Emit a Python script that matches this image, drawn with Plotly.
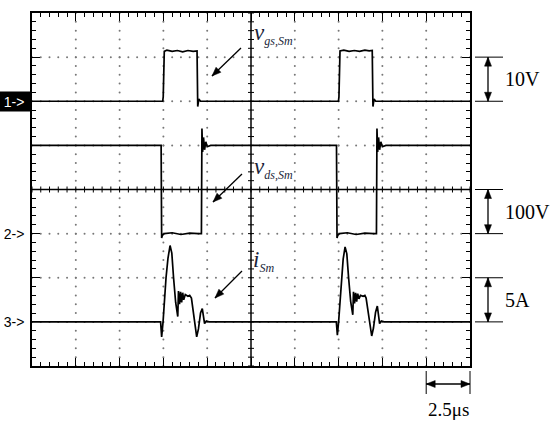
import plotly.graph_objects as go

# time base: 2.5 us per division, 10 divisions
t_vgs = [0, 7.46, 7.49, 7.55, 7.7, 8.0, 8.3, 8.6, 8.9, 9.2, 9.42, 9.46, 9.52, 9.62,
         17.49, 17.52, 17.58, 17.8, 18.1, 18.4, 18.7, 19.0, 19.25, 19.42, 19.46, 19.52, 19.62, 25]
v_vgs = [0, 0, 1.0, 11.3, 11.6, 11.3, 11.5, 11.2, 11.5, 11.3, 11.4, -1.2, 0.5, 0,
         0, 1.0, 11.4, 11.6, 11.3, 11.5, 11.3, 11.6, 11.4, 11.5, -1.2, 0.5, 0, 0]

t_vds = [0, 7.37, 7.40, 7.44, 7.55, 8.0, 8.5, 9.0, 9.5, 9.67, 9.70, 9.74, 9.79, 9.85, 9.92, 10.0, 10.2,
         17.38, 17.41, 17.45, 17.55, 18.0, 18.5, 19.0, 19.5, 19.66, 19.69, 19.73, 19.78, 19.84, 19.91, 20.0, 20.2, 25]
v_vds = [200, 200, -10, -4, 0, 2, -2, 1, 0, 0, 238, 185, 218, 190, 208, 197, 200,
         200, -10, -4, 0, 2, -2, 1, 0, 0, 238, 185, 218, 190, 208, 197, 200, 200]

t_is = [0, 7.34, 7.40, 7.48, 7.65, 7.76, 7.88, 7.98, 8.08, 8.20, 8.32, 8.36, 8.42, 8.48, 8.54, 8.60,
        8.66, 8.75, 8.90, 9.00, 9.10, 9.25, 9.40, 9.50, 9.62, 9.72, 9.78, 9.85, 9.95, 10.1,
        17.37, 17.43, 17.50, 17.66, 17.76, 17.87, 17.97, 18.07, 18.19, 18.31, 18.35, 18.41, 18.47, 18.53,
        18.59, 18.66, 18.75, 18.90, 19.00, 19.07, 19.22, 19.39, 19.49, 19.61, 19.71, 19.77, 19.84, 19.94, 20.1, 25]
i_is = [0, 0, -1.7, 0, 5.0, 7.2, 8.65, 7.8, 5.0, 2.2, 0.6, 3.5, 2.0, 3.4, 2.2, 3.3,
        2.5, 3.1, 2.9, 3.0, 2.7, 0.5, -1.7, -0.8, 1.0, 1.5, 0.5, -0.2, 0.1, 0,
        0, -1.5, 0, 5.0, 7.1, 8.5, 7.7, 5.0, 2.3, 0.8, 3.4, 2.1, 3.3, 2.3,
        3.2, 2.6, 3.0, 2.9, 3.0, 2.7, 0.4, -1.6, -0.7, 1.1, 1.8, 0.6, -0.2, 0.1, 0, 0]

# channel settings: offset in divisions, units per division
ch_offset = {"1": 2, "2": -1, "3": -3}
ch_scale = {"1": 10, "2": 100, "3": 5}
scale_labels = ["10V", "100V", "5A"]
time_label = "2.5\u03bcs"
us_per_div = 2.5

W, H = 550, 427
L, R, T, B = 32, 80, 13, 61
pw, ph = W - L - R, H - T - B

def px(x):
    return (x - L) / pw

def py(y):
    return (H - B - y) / ph

def dy(div):
    return (div + 4) / 8

fig = go.Figure()

# dotted graticule
gx, gy = [], []
for k in range(1, 10):
    if k == 5:
        continue
    for m in range(0, 41):
        gx.append(k * us_per_div)
        gy.append(-4 + m * 0.2)
for k in range(-3, 4):
    if k == 0:
        continue
    for m in range(0, 51):
        gx.append(m * 0.5)
        gy.append(k)
fig.add_trace(go.Scatter(x=gx, y=gy, mode="markers",
                         marker=dict(size=2, color="#777"), hoverinfo="skip"))

# centre cross ticks
cx, cy = [], []
hx = 3 / pw * 25
hy = 3 / ph * 8
for m in range(0, 41):
    yy = -4 + m * 0.2
    cx += [12.5 - hx, 12.5 + hx, None]
    cy += [yy, yy, None]
for m in range(0, 51):
    xx = m * 0.5
    cx += [xx, xx, None]
    cy += [-hy, hy, None]
fig.add_trace(go.Scatter(x=cx, y=cy, mode="lines",
                         line=dict(color="black", width=1), hoverinfo="skip"))

fig.add_shape(type="line", x0=12.5, x1=12.5, y0=-4, y1=4, line=dict(color="black", width=1.5))
fig.add_shape(type="line", x0=0, x1=25, y0=0, y1=0, line=dict(color="black", width=1.5))

# waveforms
for t, v, ch in [(t_vgs, v_vgs, "1"), (t_vds, v_vds, "2"), (t_is, i_is, "3")]:
    fig.add_trace(go.Scatter(x=t, y=[ch_offset[ch] + val / ch_scale[ch] for val in v],
                             mode="lines", line=dict(color="black", width=1.7)))


def arrow(x0, y0, x1, y1, heads=("end",), hl=9, hw=3.5):
    # x/y in page pixels; line plus filled triangle heads as paper shapes
    fig.add_shape(type="line", xref="paper", yref="paper",
                  x0=px(x0), y0=py(y0), x1=px(x1), y1=py(y1),
                  line=dict(color="black", width=1.3))
    dx, dyy = x1 - x0, y1 - y0
    n = (dx * dx + dyy * dyy) ** 0.5
    ux, uy = dx / n, dyy / n
    ends = []
    if "end" in heads:
        ends.append((x1, y1, ux, uy))
    if "start" in heads:
        ends.append((x0, y0, -ux, -uy))
    for tx, ty, vx, vy in ends:
        bx, by = tx - vx * hl, ty - vy * hl
        p1 = (bx - vy * hw, by + vx * hw)
        p2 = (bx + vy * hw, by - vx * hw)
        path = "M {} {} L {} {} L {} {} Z".format(px(tx), py(ty), px(p1[0]), py(p1[1]),
                                                  px(p2[0]), py(p2[1]))
        fig.add_shape(type="path", xref="paper", yref="paper", path=path,
                      fillcolor="black", line=dict(color="black", width=0.5))


# left channel markers
for ch in ["1", "2", "3"]:
    boxed = ch == "1"
    fig.add_annotation(x=0, y=dy(ch_offset[ch]), xref="paper", yref="paper",
                       text=ch + "->", showarrow=False, xanchor="right", yanchor="middle",
                       width=32, height=17, align="center",
                       bgcolor="black" if boxed else "rgba(0,0,0,0)",
                       font=dict(family="Liberation Sans", size=14,
                                 color="white" if boxed else "black"))

# signal labels with arrows
lab_font = dict(family="Liberation Serif", size=23, color="#1a1f3a")
labels = [("v", "gs,Sm", 252, 34, 241, 48, 212, 76),
          ("v", "ds,Sm", 252, 168, 242, 174, 213, 202),
          ("i", "Sm", 251, 261, 242, 271, 215, 298)]
for big, sub, lx, ly, tx, ty, hx2, hy2 in labels:
    fig.add_annotation(x=px(lx), y=py(ly), xref="paper", yref="paper",
                       text="<i>" + big + "</i><sub><i><span style='font-size:12px'>" + sub +
                            "</span></i></sub>",
                       showarrow=False, xanchor="left", yanchor="middle", font=lab_font)
    arrow(tx, ty, hx2, hy2)

# right scale brackets
for ch, lab in zip(["1", "2", "3"], scale_labels):
    y0 = 13 + (4 - ch_offset[ch]) * 353 / 8
    y1 = 13 + (4 - ch_offset[ch] - 1) * 353 / 8
    for yy in (y0, y1):
        fig.add_shape(type="line", xref="paper", yref="paper", x0=px(475), x1=px(503),
                      y0=py(yy), y1=py(yy), line=dict(color="black", width=1))
    arrow(488, y0, 488, y1, heads=("end", "start"))
    fig.add_annotation(x=px(503), y=py((y0 + y1) / 2), xref="paper", yref="paper", text=lab,
                       showarrow=False, xanchor="left", yanchor="middle",
                       font=dict(family="Liberation Serif", size=20, color="black"))

# time bracket
tx0 = 470 - 438 / 10
for xx in (tx0, 470):
    fig.add_shape(type="line", xref="paper", yref="paper", x0=px(xx), x1=px(xx),
                  y0=py(371), y1=py(394), line=dict(color="black", width=1))
arrow(tx0, 384, 470, 384, heads=("end", "start"))
fig.add_annotation(x=px((tx0 + 470) / 2), y=py(409), xref="paper", yref="paper", text=time_label,
                   showarrow=False, xanchor="center", yanchor="middle",
                   font=dict(family="Liberation Serif", size=19, color="black"))

axis_common = dict(showgrid=False, zeroline=False, showticklabels=False,
                   showline=True, linecolor="black", linewidth=1.5, mirror="allticks",
                   ticks="inside", ticklen=8, tickwidth=1.2, tickcolor="black",
                   minor=dict(ticks="inside", ticklen=4, tickwidth=1, tickcolor="black"))
fig.update_xaxes(range=[0, 25], dtick=2.5, tick0=0, minor_dtick=0.5, **axis_common)
fig.update_yaxes(range=[-4, 4], dtick=1, tick0=0, minor_dtick=0.2, **axis_common)

fig.update_layout(width=W, height=H, margin=dict(l=L, r=R, t=T, b=B),
                  paper_bgcolor="white", plot_bgcolor="white", showlegend=False)

# drop the browser's default body margin so the figure sits at the page origin
fig.write_html("out.html", config={"displayModeBar": False},
               post_script="document.body.style.margin='0';")
